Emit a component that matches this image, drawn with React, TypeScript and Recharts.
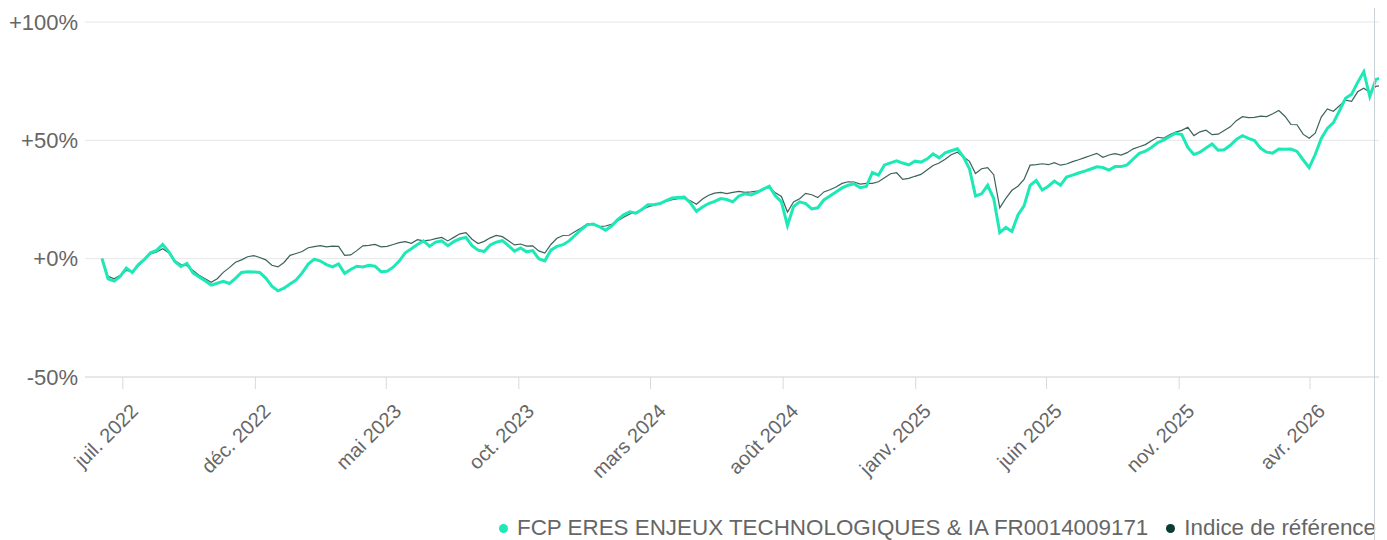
import React from "react";
import {
  LineChart,
  Line,
  XAxis,
  YAxis,
  CartesianGrid,
  Legend,
} from "recharts";

// Weekly observations starting on this date
const START_DATE = "2022-06-07";

// Fund performance (%), one value per week
const FUND = [
  0, -8.5, -9.5, -7.5, -4, -5.8, -2.5, -0.3, 2.5, 3.5,
  6, 3, -1.2, -3.3, -2, -6, -7.7, -9.3, -11.2, -10.4,
  -9.6, -10.5, -8.3, -5.8, -5.5, -5.6, -5.8, -8.2, -11.6, -13.6,
  -12.5, -10.7, -9, -6, -2.3, -0.2, -1, -2.5, -3.5, -2.2,
  -6.2, -4.6, -3.2, -3.5, -2.8, -3.2, -5.5, -5.3, -3.6, -1,
  2.5, 4.2, 6, 7.5, 5.2, 7, 7.5, 5.5, 7.2, 8.4,
  9, 5.5, 3.6, 3, 5.8, 7, 7.6, 5.5, 3.2, 4.5,
  2.9, 3.4, 0, -0.9, 3.6, 5.2, 5.9, 7.5, 9.9, 12.3,
  14.3, 14.6, 13.5, 12, 13.8, 16.5, 18.5, 19.8, 19.2, 20.8,
  22.8, 22.8, 23.3, 24.5, 25.6, 25.8, 26, 23.5, 20, 21.8,
  23.3, 24.2, 25.4, 25, 24, 26.5, 27.4, 26.9, 28, 29.4,
  30.6, 26.6, 24, 14, 22, 24, 23.3, 21, 21.5, 24.8,
  26.5, 28.2, 29.9, 31, 31.6, 30, 30.5, 36.4, 35.3, 39.6,
  40.5, 41.3, 40.4, 39.6, 41.2, 40.8, 42.1, 44.3, 42.6, 44.7,
  45.6, 46.4, 43, 38, 26.5, 27.4, 31, 25.4, 11, 13.2,
  11.5, 18.5, 22.3, 31, 33, 29, 30.6, 32.8, 31, 34.5,
  35.3, 36.2, 37, 37.9, 38.8, 38.5, 37.4, 38.9, 38.9, 39.6,
  42.1, 44.5, 45.4, 47, 49, 50.1, 51.6, 53, 52.4, 47,
  44, 45, 46.8, 48.5, 45.8, 46, 47.9, 50.4, 52, 50.8,
  49.9, 46.6, 45, 44.6, 46.3, 46.2, 46.3, 45.3, 41.8, 38.5,
  44, 50.8, 55, 57.5, 62.5, 67.8, 69.5, 74.5, 79, 68.5,
  75.7, 76.5, 74,
];

// Benchmark performance (%), one value per week
const INDEX = [
  0, -7.5, -8.5, -7, -5, -5.5, -3, -0.5, 2, 2.8,
  4.2, 2.5, -0.8, -2.5, -3, -5, -7, -8.5, -10, -8.5,
  -5.8, -3.8, -1.5, -0.5, 0.8, 1.3, 0.5, -0.5, -2.8, -3.5,
  -1.6, 1.4, 2.2, 3, 4.6, 5.1, 5.5, 5, 5.3, 5.2,
  1.4, 1.6, 3.4, 5.4, 5.6, 6, 5, 5.2, 6, 6.8,
  7.2, 6.5, 8, 7.5, 7.8, 8.5, 9, 7.5, 9, 10.5,
  11, 8.2, 6.4, 7.3, 8.8, 9.8, 9.3, 7.6, 5.8, 6.2,
  5.3, 5.4, 3.3, 2.4, 6, 8.6, 9.8, 9.9, 11.5, 13,
  14.7, 14.4, 13.5, 13.8, 14.5, 16, 17.5, 18.9, 19.5, 20.8,
  21.9, 22.6, 23.4, 24.2, 24.9, 25.4, 25.4, 24.5, 23, 25.2,
  26.8, 27.7, 28, 27.5, 28, 28.4, 28, 28.2, 28.5, 29.2,
  30.3, 27.8, 26.3, 19.7, 24, 25.3, 27.6, 27, 25.8, 28.2,
  29.1, 30.3, 31.8, 32.5, 32.4, 31.5, 31.8, 31.8, 32.5, 34.2,
  35.9, 36.3, 33.5, 33.9, 34.8, 35.6, 37.5, 39.4, 40.4, 42,
  43.9, 45, 43.1, 41.1, 36, 38, 38.5, 35.5, 21.5, 25.5,
  28.9, 30.6, 33.5, 39.5, 39.7, 40.1, 39.7, 40.6, 39.5, 40,
  41, 41.8, 42.7, 43.6, 44.5, 42.8, 43.8, 44.4, 43.8, 44.8,
  46.4, 47.3, 48.2, 49.8, 51.3, 50.9, 52.3, 53.5, 54.2, 55.5,
  52, 53.6, 54.3, 52.4, 52.6, 54.2, 55.7, 58.3, 60, 59.6,
  59.7, 60.2, 60, 61.2, 62.6, 60.2, 56.7, 56.6, 52.6, 50.9,
  53, 59.8, 63.3, 62.3, 64.6, 67, 66.5, 70.5, 72, 70.3,
  72.8, 73.2, 73.5,
];

const TICK_DATES = [
  "2022-07-01", "2022-12-01", "2023-05-01", "2023-10-01", "2024-03-01",
  "2024-08-01", "2025-01-01", "2025-06-01", "2025-11-01", "2026-04-01",
];
const TICK_LABELS = [
  "juil. 2022", "déc. 2022", "mai 2023", "oct. 2023", "mars 2024",
  "août 2024", "janv. 2025", "juin 2025", "nov. 2025", "avr. 2026",
];

const Y_TICKS = [-50, 0, 50, 100];

const FUND_NAME = "FCP ERES ENJEUX TECHNOLOGIQUES & IA FR0014009171";
const INDEX_NAME = "Indice de référence";

const FUND_COLOR = "#1de9b6";
const INDEX_COLOR = "#0b3b33";

const DAY = 24 * 3600 * 1000;
const t0 = Date.parse(START_DATE + "T00:00:00Z");
const data = FUND.map((f, i) => ({
  t: t0 + i * 7 * DAY,
  fund: f,
  index: INDEX[i],
}));
const tickValues = TICK_DATES.map((d) => Date.parse(d + "T00:00:00Z"));
const labelFor = (v: number) => {
  const k = tickValues.indexOf(v);
  return k >= 0 ? TICK_LABELS[k] : "";
};

const FONT = "'Liberation Sans', Arial, sans-serif";

const XTick = (props: any) => {
  const { x, y, payload } = props;
  return (
    <g transform={`translate(${x + 8},${y + 13})`}>
      <text
        transform="rotate(-45)"
        textAnchor="end"
        dy="0.6em"
        fill="#666"
        fontSize={20}
        fontFamily={FONT}
      >
        {labelFor(payload.value)}
      </text>
    </g>
  );
};

const YTick = (props: any) => {
  const { x, y, payload } = props;
  const v = payload.value;
  const s = (v >= 0 ? "+" : "") + v + "%";
  return (
    <text
      x={x + 1}
      y={y}
      dy="0.35em"
      textAnchor="end"
      fill="#666"
      fontSize={22}
      fontFamily={FONT}
    >
      {s}
    </text>
  );
};

const LegendContent = () => (
  <div
    style={{
      display: "flex",
      justifyContent: "flex-end",
      alignItems: "center",
      fontFamily: FONT,
      fontSize: 22.4,
      color: "#666",
      paddingRight: 12,
      height: 24,
      whiteSpace: "nowrap",
    }}
  >
    {[
      { name: FUND_NAME, color: FUND_COLOR },
      { name: INDEX_NAME, color: INDEX_COLOR },
    ].map((it, k) => (
      <span
        key={k}
        style={{ display: "inline-flex", alignItems: "center", marginLeft: 18 }}
      >
        <span
          style={{
            display: "inline-block",
            width: 9,
            height: 9,
            borderRadius: "50%",
            background: it.color,
            marginRight: 9,
          }}
        />
        {it.name}
      </span>
    ))}
  </div>
);

export default function App() {
  return (
    <div style={{ position: "relative", width: 1380, height: 532 }}>
      <LineChart
        width={1380}
        height={532}
        data={data}
        margin={{ top: 14, right: 0, bottom: 0, left: 0 }}
      >
        <CartesianGrid vertical={false} stroke="#e6e6e6" />
        <XAxis
          dataKey="t"
          type="number"
          domain={[data[0].t, data[data.length - 1].t]}
          ticks={tickValues}
          tick={<XTick />}
          tickLine={{ stroke: "#d9d9d9" }}
          tickSize={12}
          axisLine={{ stroke: "#dcdcdc" }}
          height={139}
          interval={0}
          padding={{ left: 17, right: 0 }}
        />
        <YAxis
          domain={[-50, 100]}
          ticks={Y_TICKS}
          tick={<YTick />}
          tickLine={false}
          axisLine={false}
          width={77}
        />
        <Line
          dataKey="index"
          stroke={INDEX_COLOR}
          strokeOpacity={0.8}
          strokeWidth={1.2}
          dot={false}
          isAnimationActive={false}
        />
        <Line
          dataKey="fund"
          stroke={FUND_COLOR}
          strokeWidth={3}
          dot={false}
          isAnimationActive={false}
        />
        <Legend verticalAlign="bottom" content={<LegendContent />} />
      </LineChart>
      <div
        style={{
          position: "absolute",
          left: 1366,
          top: -8,
          width: 0,
          height: 540,
          borderLeft: "1.5px solid #c9d0d8",
          pointerEvents: "none",
        }}
      />
    </div>
  );
}
